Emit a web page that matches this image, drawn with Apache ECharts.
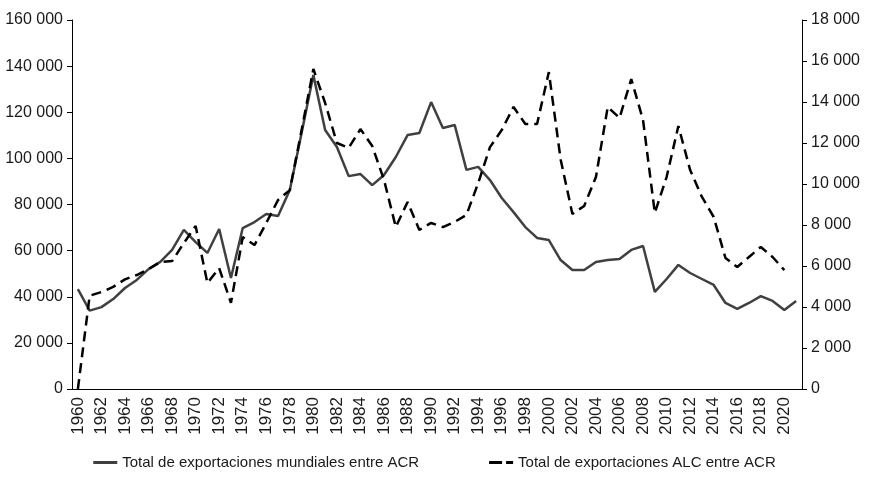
<!DOCTYPE html>
<html>
<head>
<meta charset="utf-8">
<script src="https://cdn.jsdelivr.net/npm/echarts@6/dist/echarts.min.js"></script>
<style>
  html, body { margin: 0; padding: 0; background: #fff; }
  #chart { width: 869px; height: 481px; }
</style>
</head>
<body>
<div id="chart"></div>
<script>
// años 1960 - 2021
var years = [];
for (var y = 1960; y <= 2021; y++) years.push(String(y));

// Total de exportaciones mundiales entre ACR (eje izquierdo)
var mundiales = [
  43300, 34000, 35500, 39000, 43800, 47300, 52000, 55100, 60300, 69000,
  63700, 59000, 69400, 48100, 69800, 72400, 75900, 75000, 86300, 111000,
  136100, 112300, 104900, 92300, 93200, 88400, 92800, 100600, 110100, 111000,
  124400, 113200, 114500, 95000, 96300, 90600, 82800, 76700, 70200, 65500,
  64600, 55900, 51600, 51600, 55100, 55900, 56400, 60300, 62000, 42100,
  47700, 53800, 50300, 47700, 45100, 37300, 34700, 37300, 40300, 38200,
  34300, 38200
];

// Total de exportaciones ALC entre ACR (eje derecho)
var alc = [
  0, 4550, 4730, 4980, 5350, 5560, 5850, 6200, 6240, 7120,
  7950, 5170, 5900, 4200, 7410, 7020, 8100, 9220, 9700, 12630,
  15610, 13950, 12000, 11760, 12680, 11850, 10200, 7900, 9120, 7760,
  8100, 7900, 8150, 8490, 10050, 11800, 12630, 13760, 12930, 12930,
  15460, 11200, 8540, 8930, 10340, 13760, 13220, 15120, 13120, 8590,
  10340, 12830, 10680, 9370, 8390, 6390, 5950, 6440, 6930, 6440,
  5800, null
];

var leftTicks = [0, 20000, 40000, 60000, 80000, 100000, 120000, 140000, 160000];
var rightTicks = [0, 2000, 4000, 6000, 8000, 10000, 12000, 14000, 16000, 18000];

function fmt(v) {
  return String(v).replace(/\B(?=(\d{3})+(?!\d))/g, " ");
}

var chart = echarts.init(document.getElementById("chart"));
var font = "'Liberation Sans', Arial, sans-serif";

var option = {
  animation: false,
  textStyle: { fontFamily: font, color: "#1a1a1a" },
  grid: { left: 72, right: 67, top: 20, bottom: 92, containLabel: false, outerBoundsMode: "none" },
  legend: {
    bottom: 6,
    left: "center",
    itemWidth: 24,
    itemHeight: 3,
    itemGap: 70,
    textStyle: { fontFamily: font, fontSize: 15, color: "#1a1a1a" },
    data: [
      { name: "Total de exportaciones mundiales entre ACR", icon: "path://M0,0H24V3H0Z" },
      { name: "Total de exportaciones ALC entre ACR", icon: "path://M0,0H13V3H0Z M17,0H24V3H17Z" }
    ]
  },
  xAxis: {
    type: "category",
    data: years,
    boundaryGap: true,
    axisLine: { lineStyle: { color: "#000", width: 1 } },
    axisTick: { interval: 0, length: 5, lineStyle: { color: "#000" } },
    axisLabel: {
      interval: 1,
      rotate: 90,
      margin: 8,
      fontSize: 17,
      color: "#1a1a1a"
    }
  },
  yAxis: [
    {
      type: "value",
      min: 0,
      max: 160000,
      interval: 20000,
      position: "left",
      axisLine: { show: true, lineStyle: { color: "#000", width: 1 } },
      axisTick: { show: true, length: 5, lineStyle: { color: "#000" } },
      splitLine: { show: false },
      axisLabel: {
        margin: 9,
        fontSize: 16,
        color: "#1a1a1a",
        formatter: function (v) { return fmt(v); }
      }
    },
    {
      type: "value",
      min: 0,
      max: 18000,
      interval: 2000,
      position: "right",
      axisLine: { show: true, lineStyle: { color: "#000", width: 1 } },
      axisTick: { show: true, length: 5, lineStyle: { color: "#000" } },
      splitLine: { show: false },
      axisLabel: {
        margin: 9,
        fontSize: 16,
        color: "#1a1a1a",
        formatter: function (v) { return fmt(v); }
      }
    }
  ],
  series: [
    {
      name: "Total de exportaciones mundiales entre ACR",
      type: "line",
      yAxisIndex: 0,
      data: mundiales,
      symbol: "none",
      itemStyle: { color: "#404040" },
      lineStyle: { color: "#404040", width: 2.5 }
    },
    {
      name: "Total de exportaciones ALC entre ACR",
      type: "line",
      yAxisIndex: 1,
      data: alc,
      symbol: "none",
      itemStyle: { color: "#000" },
      lineStyle: { color: "#000", width: 2.5, type: [10, 6] }
    }
  ]
};

chart.setOption(option);
</script>
</body>
</html>
